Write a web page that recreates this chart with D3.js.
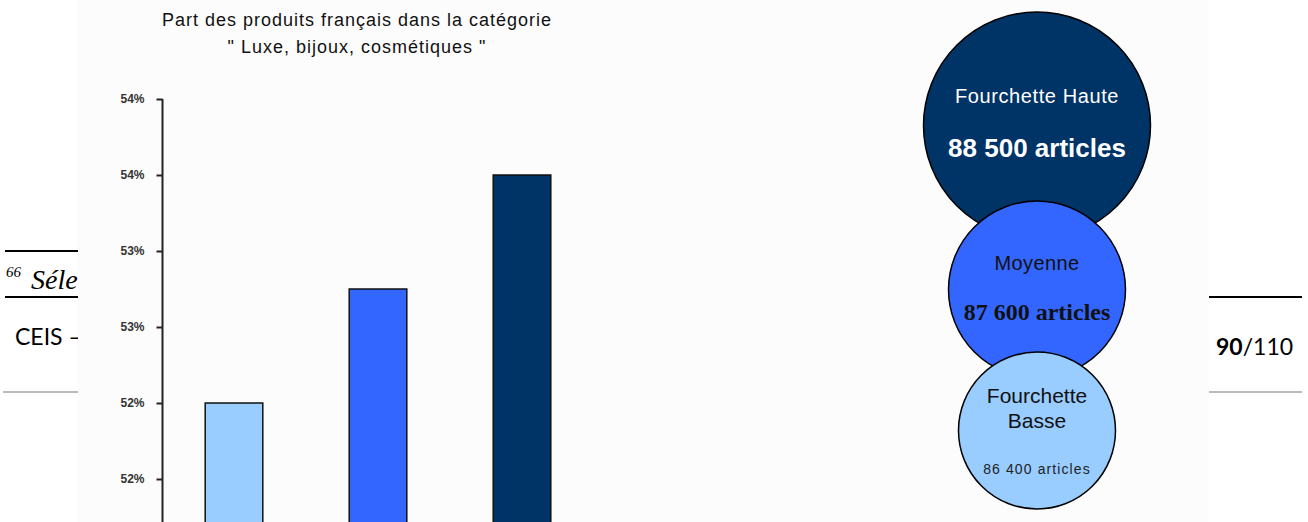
<!DOCTYPE html>
<html>
<head>
<meta charset="utf-8">
<script src="https://cdn.jsdelivr.net/npm/d3@7"></script>
<style>
  body { margin: 0; background: #fff; }
  svg { display: block; }
</style>
</head>
<body>
<div id="chart"></div>
<script>
// data
const categories = ["Fourchette Basse", "Moyenne", "Fourchette Haute"];
const shares = [52.0, 52.75, 53.5];
const articles = [86400, 87600, 88500];
const articleLabels = ["86 400 articles", "87 600 articles", "88 500 articles"];
const circleTitles = [["Fourchette", "Basse"], ["Moyenne"], ["Fourchette Haute"]];
const tickValues = [51.5, 52, 52.5, 53, 53.5, 54];
const tickLabels = ["52%", "52%", "53%", "53%", "54%", "54%"];
const titleLines = ["Part des produits français dans la catégorie", "\" Luxe, bijoux, cosmétiques \""];
const colors = ["#99ccff", "#3366ff", "#003366"];

const W = 1308, H = 522;

const svg = d3.select("#chart").append("svg")
  .attr("width", W)
  .attr("height", H);

// page of the document behind the picture
const page = svg.append("g");
page.append("line").attr("x1", 5).attr("x2", 80).attr("y1", 251).attr("y2", 251)
  .attr("stroke", "#000").attr("stroke-width", 2);
page.append("line").attr("x1", 5).attr("x2", 80).attr("y1", 297).attr("y2", 297)
  .attr("stroke", "#000").attr("stroke-width", 2);
page.append("line").attr("x1", 3).attr("x2", 80).attr("y1", 392).attr("y2", 392)
  .attr("stroke", "#bbb").attr("stroke-width", 2);
page.append("text").attr("x", 6).attr("y", 277)
  .attr("font-family", "Liberation Serif").attr("font-style", "italic")
  .attr("font-size", 15).text("66");
page.append("text").attr("x", 31).attr("y", 289)
  .attr("font-family", "Liberation Serif").attr("font-style", "italic")
  .attr("font-size", 28).text("Séle");
page.append("text").attr("x", 15).attr("y", 345)
  .attr("font-family", "Lato").attr("font-size", 23).text("CEIS –");

page.append("line").attr("x1", 1205).attr("x2", 1302).attr("y1", 297).attr("y2", 297)
  .attr("stroke", "#000").attr("stroke-width", 2);
page.append("line").attr("x1", 1205).attr("x2", 1302).attr("y1", 392).attr("y2", 392)
  .attr("stroke", "#bbb").attr("stroke-width", 2);
const pg = page.append("text").attr("x", 1216).attr("y", 355)
  .attr("font-family", "Lato").attr("font-size", 23);
pg.append("tspan").attr("font-weight", "bold").text("90");
pg.append("tspan").text("/110");

// the inserted picture
svg.append("rect").attr("x", 78).attr("y", 0).attr("width", 1209 - 78).attr("height", H)
  .attr("fill", "#fcfcfc");

// ---- bar chart ----
const x = d3.scaleBand().domain(categories).range([162, 594])
  .paddingInner(0.6).paddingOuter(0.3);
const y = d3.scaleLinear().domain([51.5, 54]).range([479, 99]);

const title = svg.append("text")
  .attr("text-anchor", "middle")
  .attr("font-family", "Liberation Sans, Arial, sans-serif")
  .attr("font-size", 18)
  .attr("letter-spacing", 1)
  .attr("fill", "#111");
titleLines.forEach((t, i) => {
  title.append("tspan").attr("x", 357).attr("y", 26 + i * 27).text(t);
});

const yAxis = d3.axisLeft(y)
  .tickValues(tickValues)
  .tickSize(6)
  .tickPadding(12)
  .tickFormat((d, i) => tickLabels[i]);

const ax = svg.append("g")
  .attr("transform", "translate(162.5,0)")
  .call(yAxis);
ax.select(".domain").remove();
ax.append("line").attr("x1", 0).attr("x2", 0).attr("y1", 99).attr("y2", H + 10)
  .attr("stroke", "#222").attr("stroke-width", 2);
ax.selectAll(".tick line").attr("stroke", "#222").attr("stroke-width", 2);
ax.selectAll(".tick text")
  .attr("font-family", "Liberation Sans, Arial, sans-serif")
  .attr("font-size", 12)
  .attr("font-weight", "bold")
  .attr("fill", "#333");

svg.selectAll("rect.bar")
  .data(shares)
  .enter().append("rect")
    .attr("class", "bar")
    .attr("x", (d, i) => x(categories[i]))
    .attr("y", d => y(d))
    .attr("width", x.bandwidth())
    .attr("height", d => H + 20 - y(d))
    .attr("fill", (d, i) => colors[i])
    .attr("stroke", "#111")
    .attr("stroke-width", 1.5);

// ---- circles ----
const r = d3.scaleLinear().domain(articles).range([78.5, 88.5, 113.5]);
const overlaps = [26, 38];
const cx = 1037;
const cys = [];
// stack from the top circle (highest value) downward
let cur = 12 + r(articles[2]);
cys[2] = cur;
cur = cur + r(articles[2]) + r(articles[1]) - overlaps[1];
cys[1] = cur;
cur = cur + r(articles[1]) + r(articles[0]) - overlaps[0];
cys[0] = cur;

const order = [2, 1, 0];
const bubbles = svg.selectAll("g.bubble")
  .data(order)
  .enter().append("g")
    .attr("class", "bubble")
    .attr("transform", i => "translate(" + cx + "," + cys[i] + ")");

bubbles.append("circle")
  .attr("r", i => r(articles[i]))
  .attr("fill", i => colors[i])
  .attr("stroke", "#000")
  .attr("stroke-width", 1.5);

// text placement inside each circle
const titleStyle = [
  { dy: [-35.5, -10.5], color: "#111", size: 21, ls: 0 },
  { dy: [-26.5], color: "#111", size: 20, ls: 0.4 },
  { dy: [-30], color: "#fff", size: 20, ls: 0.6 }
];
const numStyle = [
  { dy: 38.5, color: "#222", size: 14, weight: "normal", family: "Liberation Sans, Arial, sans-serif", ls: 1.1 },
  { dy: 22.5, color: "#111", size: 24, weight: "bold", family: "Liberation Serif, Times New Roman, serif", ls: 0 },
  { dy: 22.5, color: "#fff", size: 26, weight: "bold", family: "Liberation Sans, Arial, sans-serif", ls: 0 }
];

bubbles.each(function(i) {
  const g = d3.select(this);
  const ts = titleStyle[i];
  circleTitles[i].forEach((t, k) => {
    g.append("text")
      .attr("text-anchor", "middle")
      .attr("dominant-baseline", "central")
      .attr("y", ts.dy[k])
      .attr("font-family", "Liberation Sans, Arial, sans-serif")
      .attr("font-size", ts.size)
      .attr("letter-spacing", ts.ls)
      .attr("fill", ts.color)
      .text(t);
  });
  const ns = numStyle[i];
  g.append("text")
    .attr("text-anchor", "middle")
    .attr("dominant-baseline", "central")
    .attr("y", ns.dy)
    .attr("font-family", ns.family)
    .attr("font-size", ns.size)
    .attr("font-weight", ns.weight)
    .attr("letter-spacing", ns.ls)
    .attr("fill", ns.color)
    .text(articleLabels[i]);
});
</script>
</body>
</html>
